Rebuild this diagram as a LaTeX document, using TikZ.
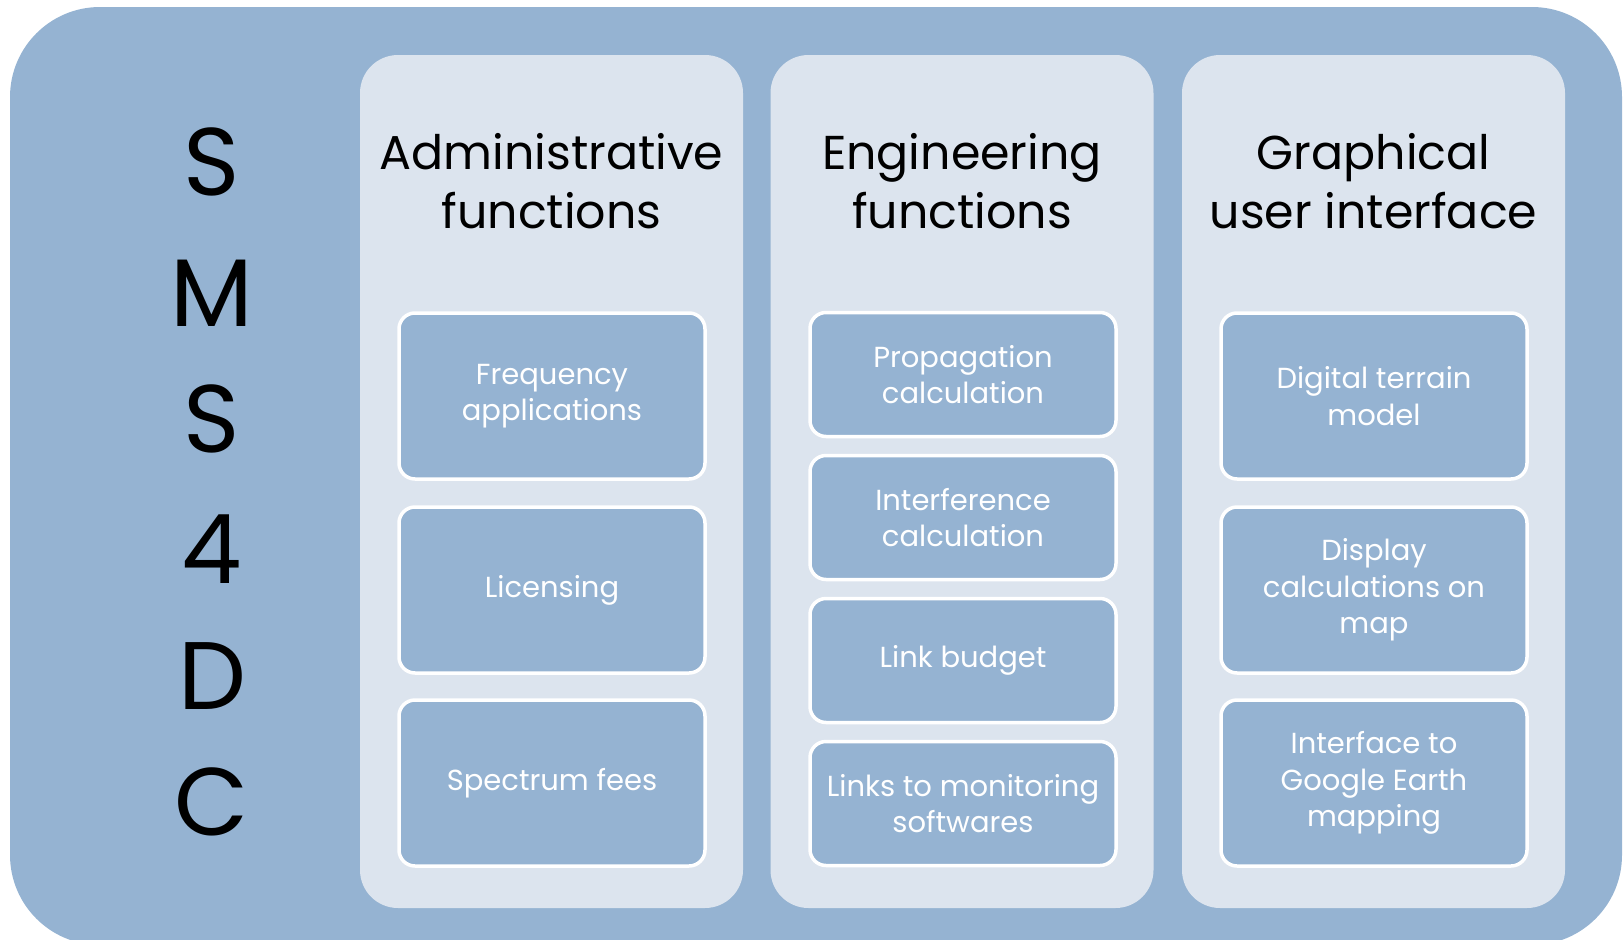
\documentclass[tikz,border=0pt]{standalone}
\usepackage{fontspec}
\setmainfont{Poppins}
\definecolor{outerblue}{RGB}{149,179,210}
\definecolor{colfill}{RGB}{220,228,238}
\begin{document}
\begin{tikzpicture}[x=1pt,y=-1pt,
 outerbox/.style={fill=outerblue, draw=none, rounded corners=90pt, minimum width=1612pt, minimum height=938pt, inner sep=0pt},
 colbox/.style={fill=colfill, draw=none, rounded corners=38pt, minimum width=383pt, minimum height=853pt, inner sep=0pt},
 itembox/.style={fill=outerblue, draw=white, line width=3.5pt, rounded corners=16pt, minimum width=306pt, inner sep=0pt, align=center, text=white, font=\fontsize{29}{36.5}\selectfont},
 tallbox/.style={itembox, minimum height=166pt},
 shortbox/.style={itembox, minimum height=124pt},
 headtext/.style={align=center, font=\fontsize{47.5}{59}\selectfont, inner sep=0pt},
 bigletter/.style={font=\fontsize{96}{96}\selectfont, inner sep=0pt}
]
\useasboundingbox (0,0) rectangle (1623,940);
\node[outerbox] (outer) at (816,476) {};
% columns
\node[colbox] (c1) at (551.5,481.5) {};
\node[colbox] (c2) at (962,481.5) {};
\node[colbox] (c3) at (1373.5,481.5) {};
% letters
\node[bigletter] (l1) at (212,162) {S};
\node[bigletter] (l2) at (212,293) {M};
\node[bigletter] (l3) at (212,419) {S};
\node[bigletter] (l4) at (212,549) {4};
\node[bigletter] (l5) at (212,676) {D};
\node[bigletter] (l6) at (212,802) {C};
% headers
\node[headtext] (h1) at (551.5,181) {Administrative\\functions};
\node[headtext] (h2) at (962,181) {Engineering\\functions};
\node[headtext] (h3) at (1373.5,181) {Graphical\\user interface};
% column 1
\node[tallbox] (a1) at (552,396) {Frequency\\applications};
\node[tallbox] (a2) at (552,590) {Licensing};
\node[tallbox] (a3) at (552,783) {Spectrum fees};
% column 2
\node[shortbox] (e1) at (963,374.5) {Propagation\\calculation};
\node[shortbox] (e2) at (963,517.5) {Interference\\calculation};
\node[shortbox] (e3) at (963,660.5) {Link budget};
\node[shortbox] (e4) at (963,803.5) {Links to monitoring\\softwares};
% column 3
\node[tallbox] (g1) at (1374,396) {Digital terrain\\model};
\node[tallbox] (g2) at (1374,590) {Display\\calculations on\\map};
\node[tallbox] (g3) at (1374,783) {Interface to\\Google Earth\\mapping};
\end{tikzpicture}
\end{document}
